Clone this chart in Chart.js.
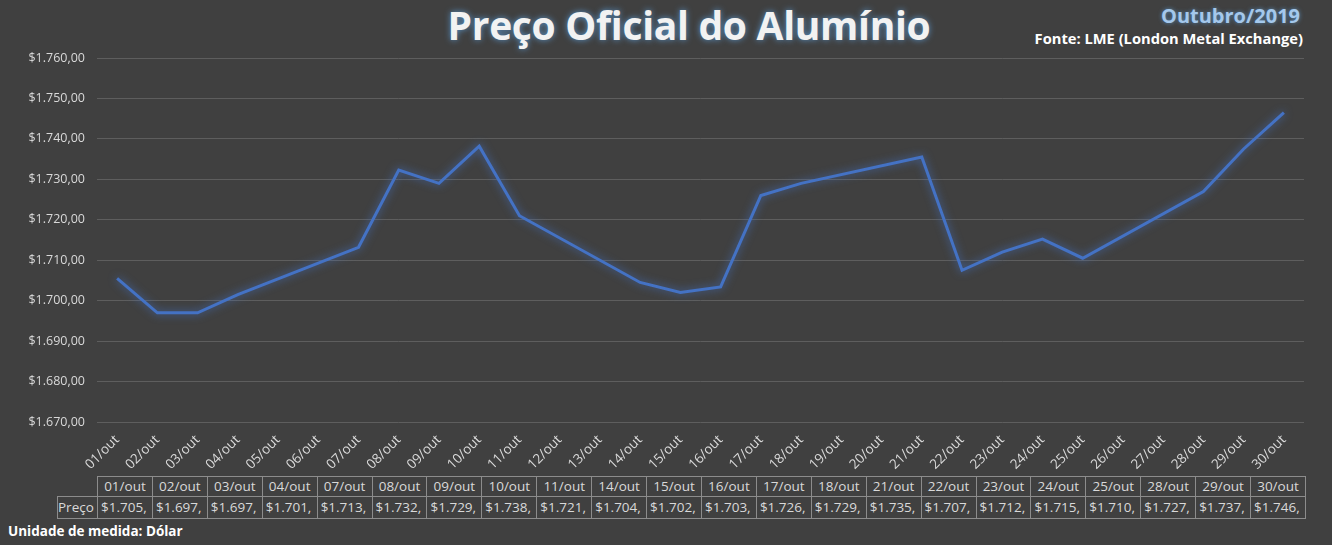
<!DOCTYPE html>
<html>
<head>
<meta charset="utf-8">
<script src="https://cdn.jsdelivr.net/npm/chart.js@4.4.1/dist/chart.umd.min.js"></script>
<style>
  html, body { margin: 0; padding: 0; background: #404040; }
  body { width: 1332px; height: 545px; position: relative; overflow: hidden; font-family: "Open Sans", sans-serif; }
  #title { position: absolute; left: 0; width: 1378px; top: -2px; text-align: center; color: #f2f2f2; font-weight: 700; font-size: 39px; letter-spacing: -0.3px; text-shadow: 0 0 6px rgba(91,155,213,0.9); }
  #month { position: absolute; right: 32px; top: 2px; color: #a4c8ec; font-weight: 700; font-size: 20px; text-shadow: 0 0 4px rgba(91,155,213,0.8); }
  #source { position: absolute; right: 29px; top: 28px; color: #ffffff; font-weight: 700; font-size: 14.7px; }
  #wrap { position: absolute; left: 0; top: 0; width: 1332px; height: 476px; }
  #table { position: absolute; left: 57px; top: 476px; border-collapse: collapse; table-layout: fixed; width: 1248px; color: #d9d9d9; font-size: 13.5px; }
  #table td { border: 1px solid #8c8c8c; padding: 0 0 0 3px; white-space: nowrap; overflow: hidden; text-overflow: clip; }
  #table tr.hd td { height: 19px; line-height: 19px; text-align: center; padding: 0; }
  #table tr.vl td { height: 21px; line-height: 21px; text-align: left; }
  #table td.rowlab { text-align: right; padding: 0 3px 0 0; }
  #unit { position: absolute; left: 8px; top: 522px; color: #ffffff; font-weight: 700; font-size: 13.5px; }
</style>
</head>
<body>
<div id="title">Preço Oficial do Alumínio</div>
<div id="month">Outubro/2019</div>
<div id="source">Fonte: LME (London Metal Exchange)</div>
<div id="wrap"><canvas id="chart"></canvas></div>
<table id="table"></table>
<div id="unit">Unidade de medida: Dólar</div>
<script>
// dias do mês (eixo de categorias)
const days = ['01/out','02/out','03/out','04/out','05/out','06/out','07/out','08/out','09/out','10/out',
  '11/out','12/out','13/out','14/out','15/out','16/out','17/out','18/out','19/out','20/out',
  '21/out','22/out','23/out','24/out','25/out','26/out','27/out','28/out','29/out','30/out'];
// preço LME, null nos dias sem pregão
const prices = [1705.5, 1697.0, 1697.0, 1701.5, null, null, 1713.2, 1732.3, 1729.0, 1738.2,
  1721.0, null, null, 1704.5, 1702.0, 1703.4, 1726.0, 1729.0, null, null,
  1735.5, 1707.5, 1712.0, 1715.2, 1710.5, null, null, 1727.0, 1737.5, 1746.5];
const yMin = 1670, yMax = 1760, yStep = 10;

function brl(v) {
  const parts = v.toFixed(2).split('.');
  const int = parts[0].replace(/\B(?=(\d{3})+(?!\d))/g, '.');
  return '$' + int + ',' + parts[1];
}

// corta o texto por caracteres, como a tabela de dados do Excel
const meas = document.createElement('canvas').getContext('2d');
meas.font = '13.5px "Open Sans"';
function fitText(s, w) {
  while (s.length > 1 && meas.measureText(s).width > w) s = s.slice(0, -1);
  return s;
}

// tabela de dados abaixo do gráfico
const table = document.getElementById('table');
const trading = days.map((d, i) => i).filter(i => prices[i] !== null);
const colW = (1248 - 40) / trading.length;
const cg = document.createElement('colgroup');
const c0 = document.createElement('col'); c0.style.width = '40px'; cg.appendChild(c0);
trading.forEach(() => { const c = document.createElement('col'); c.style.width = colW + 'px'; cg.appendChild(c); });
table.appendChild(cg);
const hd = document.createElement('tr'); hd.className = 'hd';
const vl = document.createElement('tr'); vl.className = 'vl';
const blank = document.createElement('td'); blank.style.border = 'none';
hd.appendChild(blank);
const lab = document.createElement('td'); lab.className = 'rowlab'; lab.textContent = 'Preço';
vl.appendChild(lab);
trading.forEach(i => {
  const a = document.createElement('td'); a.textContent = days[i];
  const b = document.createElement('td'); b.textContent = fitText(brl(prices[i]), colW - 4);
  hd.appendChild(a); vl.appendChild(b);
});
table.appendChild(hd); table.appendChild(vl);

const glow = {
  id: 'glow',
  beforeDatasetsDraw(chart) {
    const ctx = chart.ctx;
    ctx.save();
    ctx.shadowColor = 'rgba(68,114,196,0.9)';
    ctx.shadowBlur = 9;
  },
  afterDatasetsDraw(chart) {
    chart.ctx.restore();
  }
};

new Chart(document.getElementById('chart').getContext('2d'), {
  type: 'line',
  data: {
    labels: days,
    datasets: [{
      label: 'Preço',
      data: prices,
      borderColor: '#4472c4',
      borderWidth: 3,
      pointRadius: 0,
      tension: 0,
      spanGaps: true,
    }],
  },
  options: {
    responsive: true,
    maintainAspectRatio: false,
    animation: false,
    layout: { padding: { top: 58, right: 28, left: 0, bottom: 0 } },
    plugins: {
      legend: { display: false },
      tooltip: { enabled: false },
    },
    scales: {
      x: {
        offset: true,
        grid: { display: false },
        border: { display: false },
        afterFit: (axis) => { axis.height = 54; },
        ticks: {
          color: '#d9d9d9',
          font: { family: 'Open Sans', size: 13.5 },
          maxRotation: 45,
          minRotation: 45,
          autoSkip: false,
          padding: 2,
        },
      },
      y: {
        min: yMin,
        max: yMax,
        grid: { color: '#5e5e5e', lineWidth: 1, drawTicks: false },
        border: { display: false },
        afterFit: (axis) => { axis.width = 97; },
        ticks: {
          stepSize: yStep,
          color: '#d9d9d9',
          padding: 12,
          font: { family: 'Open Sans', size: 12.5 },
          callback: (v) => brl(v),
        },
      },
    },
  },
  plugins: [glow],
});
</script>
</body>
</html>
